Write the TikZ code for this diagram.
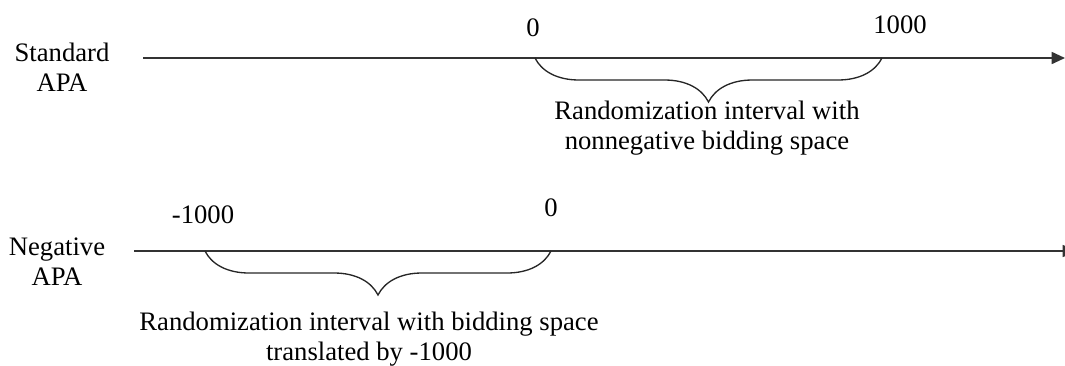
\documentclass[tikz,border=0pt]{standalone}
\usepackage{fontspec}
\setmainfont{Liberation Serif}
\usetikzlibrary{arrows.meta, positioning, decorations.pathreplacing}
\tikzset{
x=0.75pt, y=-0.75pt, % one unit is one pixel of the sketch
axis/.style={line width=1.3pt, black!80, -{Triangle[length=10pt, width=9pt]}}, % the two number lines
apabrace/.style={decorate, decoration={brace, mirror, amplitude=33pt}, line width=1pt, black!85}, % brace under an interval
lbl/.style={font=\fontsize{20}{22.5}\selectfont, align=center, inner sep=0pt}, % every text
}

\begin{document}
\begin{tikzpicture}
\useasboundingbox (0,0) rectangle (1065,365);
% standard APA
\coordinate (s0) at (143,58);
\coordinate (s1) at (1065,58);
\coordinate (szero) at (535,58);
\coordinate (sthou) at (882,58);
\node[lbl] (std) at (62,67) {Standard\\APA};
\node[lbl] (szerol) at (533,28) {0};
\node[lbl] (sthoul) at (900,25) {1000};
\draw[axis] (s0) -- (s1);
\draw[apabrace] (szero) -- (sthou);
\node[lbl] (snote) at (707,128) {Randomization interval with\\nonnegative bidding space};
% negative APA
\coordinate (n0) at (134,251);
\coordinate (n1) at (1076,251);
\coordinate (nthou) at (205,251);
\coordinate (nzero) at (551,251);
\node[lbl] (neg) at (57,262) {Negative\\APA};
\node[lbl] (nthoul) at (203,215) {-1000};
\node[lbl] (nzerol) at (551,208) {0};
\draw[axis] (n0) -- (n1);
\draw[apabrace] (nthou) -- (nzero);
\node[lbl] (nnote) at (369,339) {Randomization interval with bidding space\\translated by -1000};
\end{tikzpicture}
\end{document}
